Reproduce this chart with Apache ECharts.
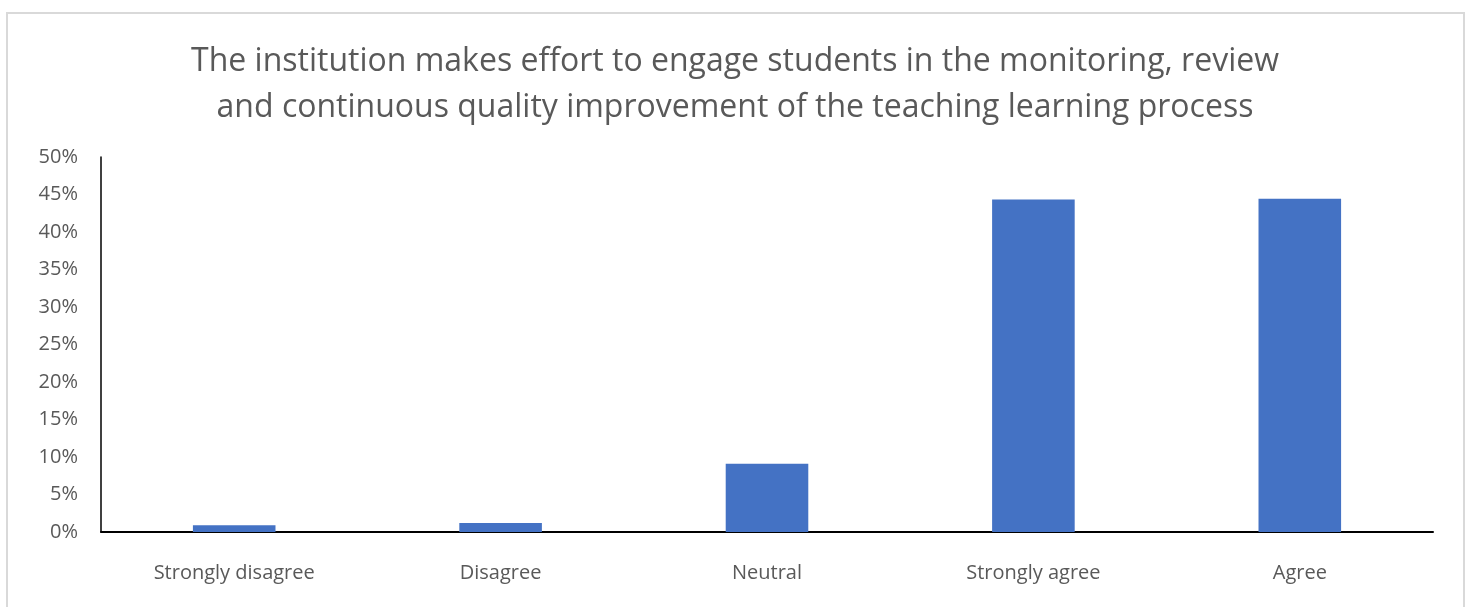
<!DOCTYPE html>
<html>
<head>
<meta charset="utf-8">
<script src="https://cdn.jsdelivr.net/npm/echarts@6/dist/echarts.min.js"></script>
<style>
    html, body { margin: 0; padding: 0; background: #fff; }
    #frame { position: absolute; left: 6px; top: 12px; width: 1455px; height: 600px; border: 2px solid #d9d9d9; }
    #chart { position: absolute; left: 0; top: 0; width: 1470px; height: 607px; }
</style>
</head>
<body>
<div id="frame"></div>
<div id="chart"></div>
<script>
// 类别和数值 (百分比)
var categories = ['Strongly disagree', 'Disagree', 'Neutral', 'Strongly agree', 'Agree'];
var values = [0.9, 1.2, 9.1, 44.35, 44.45];
var title_text = 'The institution makes effort to engage students in the monitoring, review\nand continuous quality improvement of the teaching learning process';

var option = {
    animation: false,
    title: {
        text: title_text,
        left: 'center',
        top: 34,
        textStyle: {
            fontFamily: 'Open Sans',
            fontSize: 32,
            fontWeight: 'normal',
            color: '#595959',
            lineHeight: 46
        }
    },
    grid: {
        left: 101,
        right: 37,
        top: 157,
        bottom: 75
    },
    xAxis: {
        type: 'category',
        data: categories,
        axisLine: { lineStyle: { color: '#000', width: 2 } },
        axisTick: { show: false },
        axisLabel: {
            margin: 31,
            fontFamily: 'Open Sans',
            fontSize: 20,
            color: '#595959'
        }
    },
    yAxis: {
        type: 'value',
        min: 0,
        max: 50,
        interval: 5,
        splitLine: { show: false },
        axisLine: { show: true, lineStyle: { color: '#000', width: 1.5 } },
        axisTick: { show: false },
        axisLabel: {
            margin: 23,
            fontFamily: 'Open Sans',
            fontSize: 20,
            color: '#595959',
            formatter: '{value}%'
        }
    },
    series: [{
        type: 'bar',
        data: values,
        barWidth: '31%',
        itemStyle: { color: '#4472c4' }
    }]
};
var chart = echarts.init(document.getElementById('chart'));
chart.setOption(option);
</script>
</body>
</html>
